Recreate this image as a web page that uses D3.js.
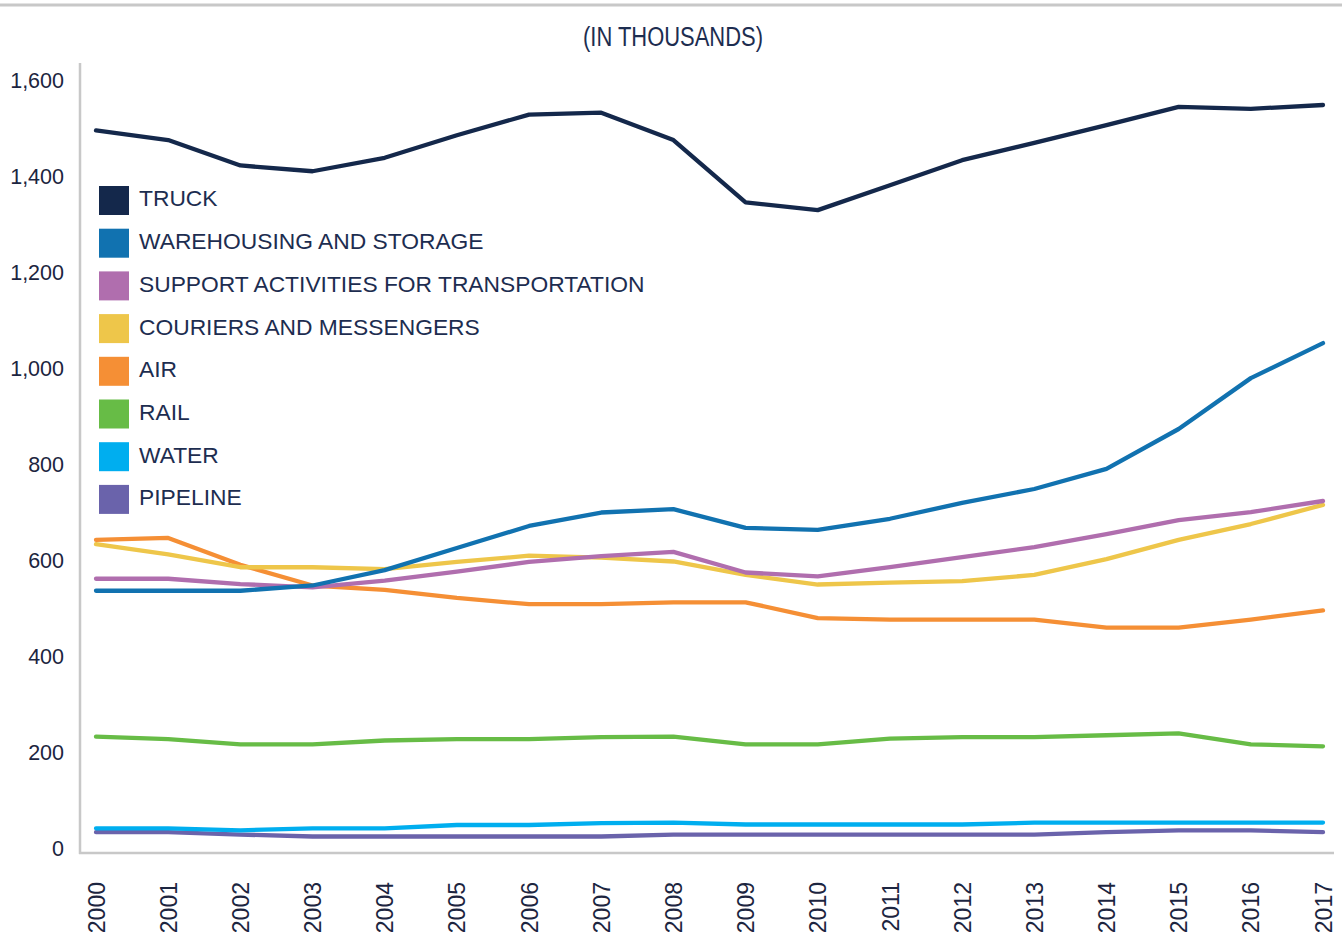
<!DOCTYPE html>
<html>
<head>
<meta charset="utf-8">
<script src="https://cdn.jsdelivr.net/npm/d3@7"></script>
<style>
  body { margin: 0; background: #fff; }
  svg { display: block; font-family: "Liberation Sans", Arial, sans-serif; }
</style>
</head>
<body>
<div id="chart"></div>
<script>
const years = [2000, 2001, 2002, 2003, 2004, 2005, 2006, 2007, 2008, 2009, 2010, 2011, 2012, 2013, 2014, 2015, 2016, 2017];
const yTicks = [0, 200, 400, 600, 800, 1000, 1200, 1400, 1600];

const truck = [1497, 1477, 1424, 1412, 1440, 1487, 1530, 1534, 1477, 1347, 1331, 1383, 1435, 1471, 1508, 1546, 1542, 1550];
const warehousing = [538, 538, 538, 549, 581, 627, 673, 701, 708, 669, 665, 688, 721, 750, 792, 875, 981, 1054];
const support = [563, 563, 552, 545, 559, 578, 598, 610, 619, 576, 568, 587, 608, 629, 656, 685, 702, 725];
const couriers = [635, 614, 587, 587, 583, 598, 611, 607, 599, 571, 551, 555, 558, 571, 604, 644, 677, 717];
const air = [644, 648, 592, 549, 540, 523, 510, 510, 514, 514, 481, 478, 478, 478, 461, 461, 478, 497];
const rail = [234, 229, 218, 218, 226, 229, 229, 233, 234, 218, 218, 230, 233, 233, 237, 241, 218, 214];
const water = [43, 43, 39, 43, 43, 50, 50, 54, 55, 51, 51, 51, 51, 55, 55, 55, 55, 55];
const pipeline = [35, 35, 30, 26, 26, 26, 26, 26, 30, 30, 30, 30, 30, 30, 35, 39, 39, 35];

const seriesNames = ["TRUCK", "WAREHOUSING AND STORAGE", "SUPPORT ACTIVITIES FOR TRANSPORTATION",
  "COURIERS AND MESSENGERS", "AIR", "RAIL", "WATER", "PIPELINE"];
const seriesColors = ["#14284b", "#1172b0", "#b06eae", "#eec64a", "#f58f35", "#67bc46", "#00aeef", "#6a63ab"];
const seriesValues = [truck, warehousing, support, couriers, air, rail, water, pipeline];

const W = 1342, H = 935;
const textColor = "#1c2540";

const svg = d3.select("#chart").append("svg")
  .attr("width", W)
  .attr("height", H);

// top rule
svg.append("line")
  .attr("x1", 0).attr("x2", W)
  .attr("y1", 5).attr("y2", 5)
  .attr("stroke", "#c8c8c8")
  .attr("stroke-width", 3);

// title, condensed
svg.append("text")
  .attr("x", 673)
  .attr("y", 46)
  .attr("text-anchor", "middle")
  .attr("textLength", 180)
  .attr("lengthAdjust", "spacingAndGlyphs")
  .style("font-size", "27px")
  .style("fill", "#1d2d50")
  .text("(IN THOUSANDS)");

const x = d3.scalePoint()
  .domain(years)
  .range([96, 1323]);

const y = d3.scaleLinear()
  .domain([0, 1600])
  .range([849, 81]);

// axis frame
svg.append("line")
  .attr("x1", 80).attr("x2", 80)
  .attr("y1", 63).attr("y2", 854)
  .attr("stroke", "#c8c8c8")
  .attr("stroke-width", 2.5);
svg.append("line")
  .attr("x1", 79).attr("x2", 1334)
  .attr("y1", 853).attr("y2", 853)
  .attr("stroke", "#c8c8c8")
  .attr("stroke-width", 2.5);

// y axis labels
const yAxis = svg.append("g")
  .attr("transform", "translate(64,0)")
  .call(d3.axisLeft(y).tickValues(yTicks).tickSize(0).tickPadding(0).tickFormat(d3.format(",")));
yAxis.select(".domain").remove();
yAxis.selectAll("text")
  .style("font-family", "'Liberation Sans', Arial, sans-serif")
  .style("font-size", "21.5px")
  .style("fill", textColor);

// x axis labels, rotated
const xAxis = svg.append("g")
  .attr("transform", "translate(0,882)")
  .call(d3.axisBottom(x).tickSize(0).tickPadding(0));
xAxis.select(".domain").remove();
xAxis.selectAll("text")
  .attr("transform", "rotate(-90)")
  .attr("x", 0)
  .attr("y", 0)
  .attr("dy", "0.35em")
  .attr("text-anchor", "end")
  .style("font-family", "'Liberation Sans', Arial, sans-serif")
  .style("font-size", "23px")
  .style("fill", textColor);

// lines, drawn bottom series first so truck sits on top
const line = d3.line()
  .x((d, i) => x(years[i]))
  .y(d => y(d));

const order = d3.range(seriesValues.length).reverse();
svg.append("g")
  .selectAll("path")
  .data(order)
  .enter()
  .append("path")
  .attr("d", i => line(seriesValues[i]))
  .attr("fill", "none")
  .attr("stroke", i => seriesColors[i])
  .attr("stroke-width", 4.3)
  .attr("stroke-linejoin", "round")
  .attr("stroke-linecap", "round");

// legend
const legend = svg.append("g")
  .attr("transform", "translate(99,186)");

const items = legend.selectAll("g")
  .data(seriesNames)
  .enter()
  .append("g")
  .attr("transform", (d, i) => `translate(0,${i * 42.7})`);

items.append("rect")
  .attr("width", 30)
  .attr("height", 29)
  .attr("fill", (d, i) => seriesColors[i]);

items.append("text")
  .attr("x", 40)
  .attr("y", 12.5)
  .attr("dy", "0.35em")
  .style("font-size", "22.8px")
  .style("fill", "#1d2d50")
  .text(d => d);
</script>
</body>
</html>
